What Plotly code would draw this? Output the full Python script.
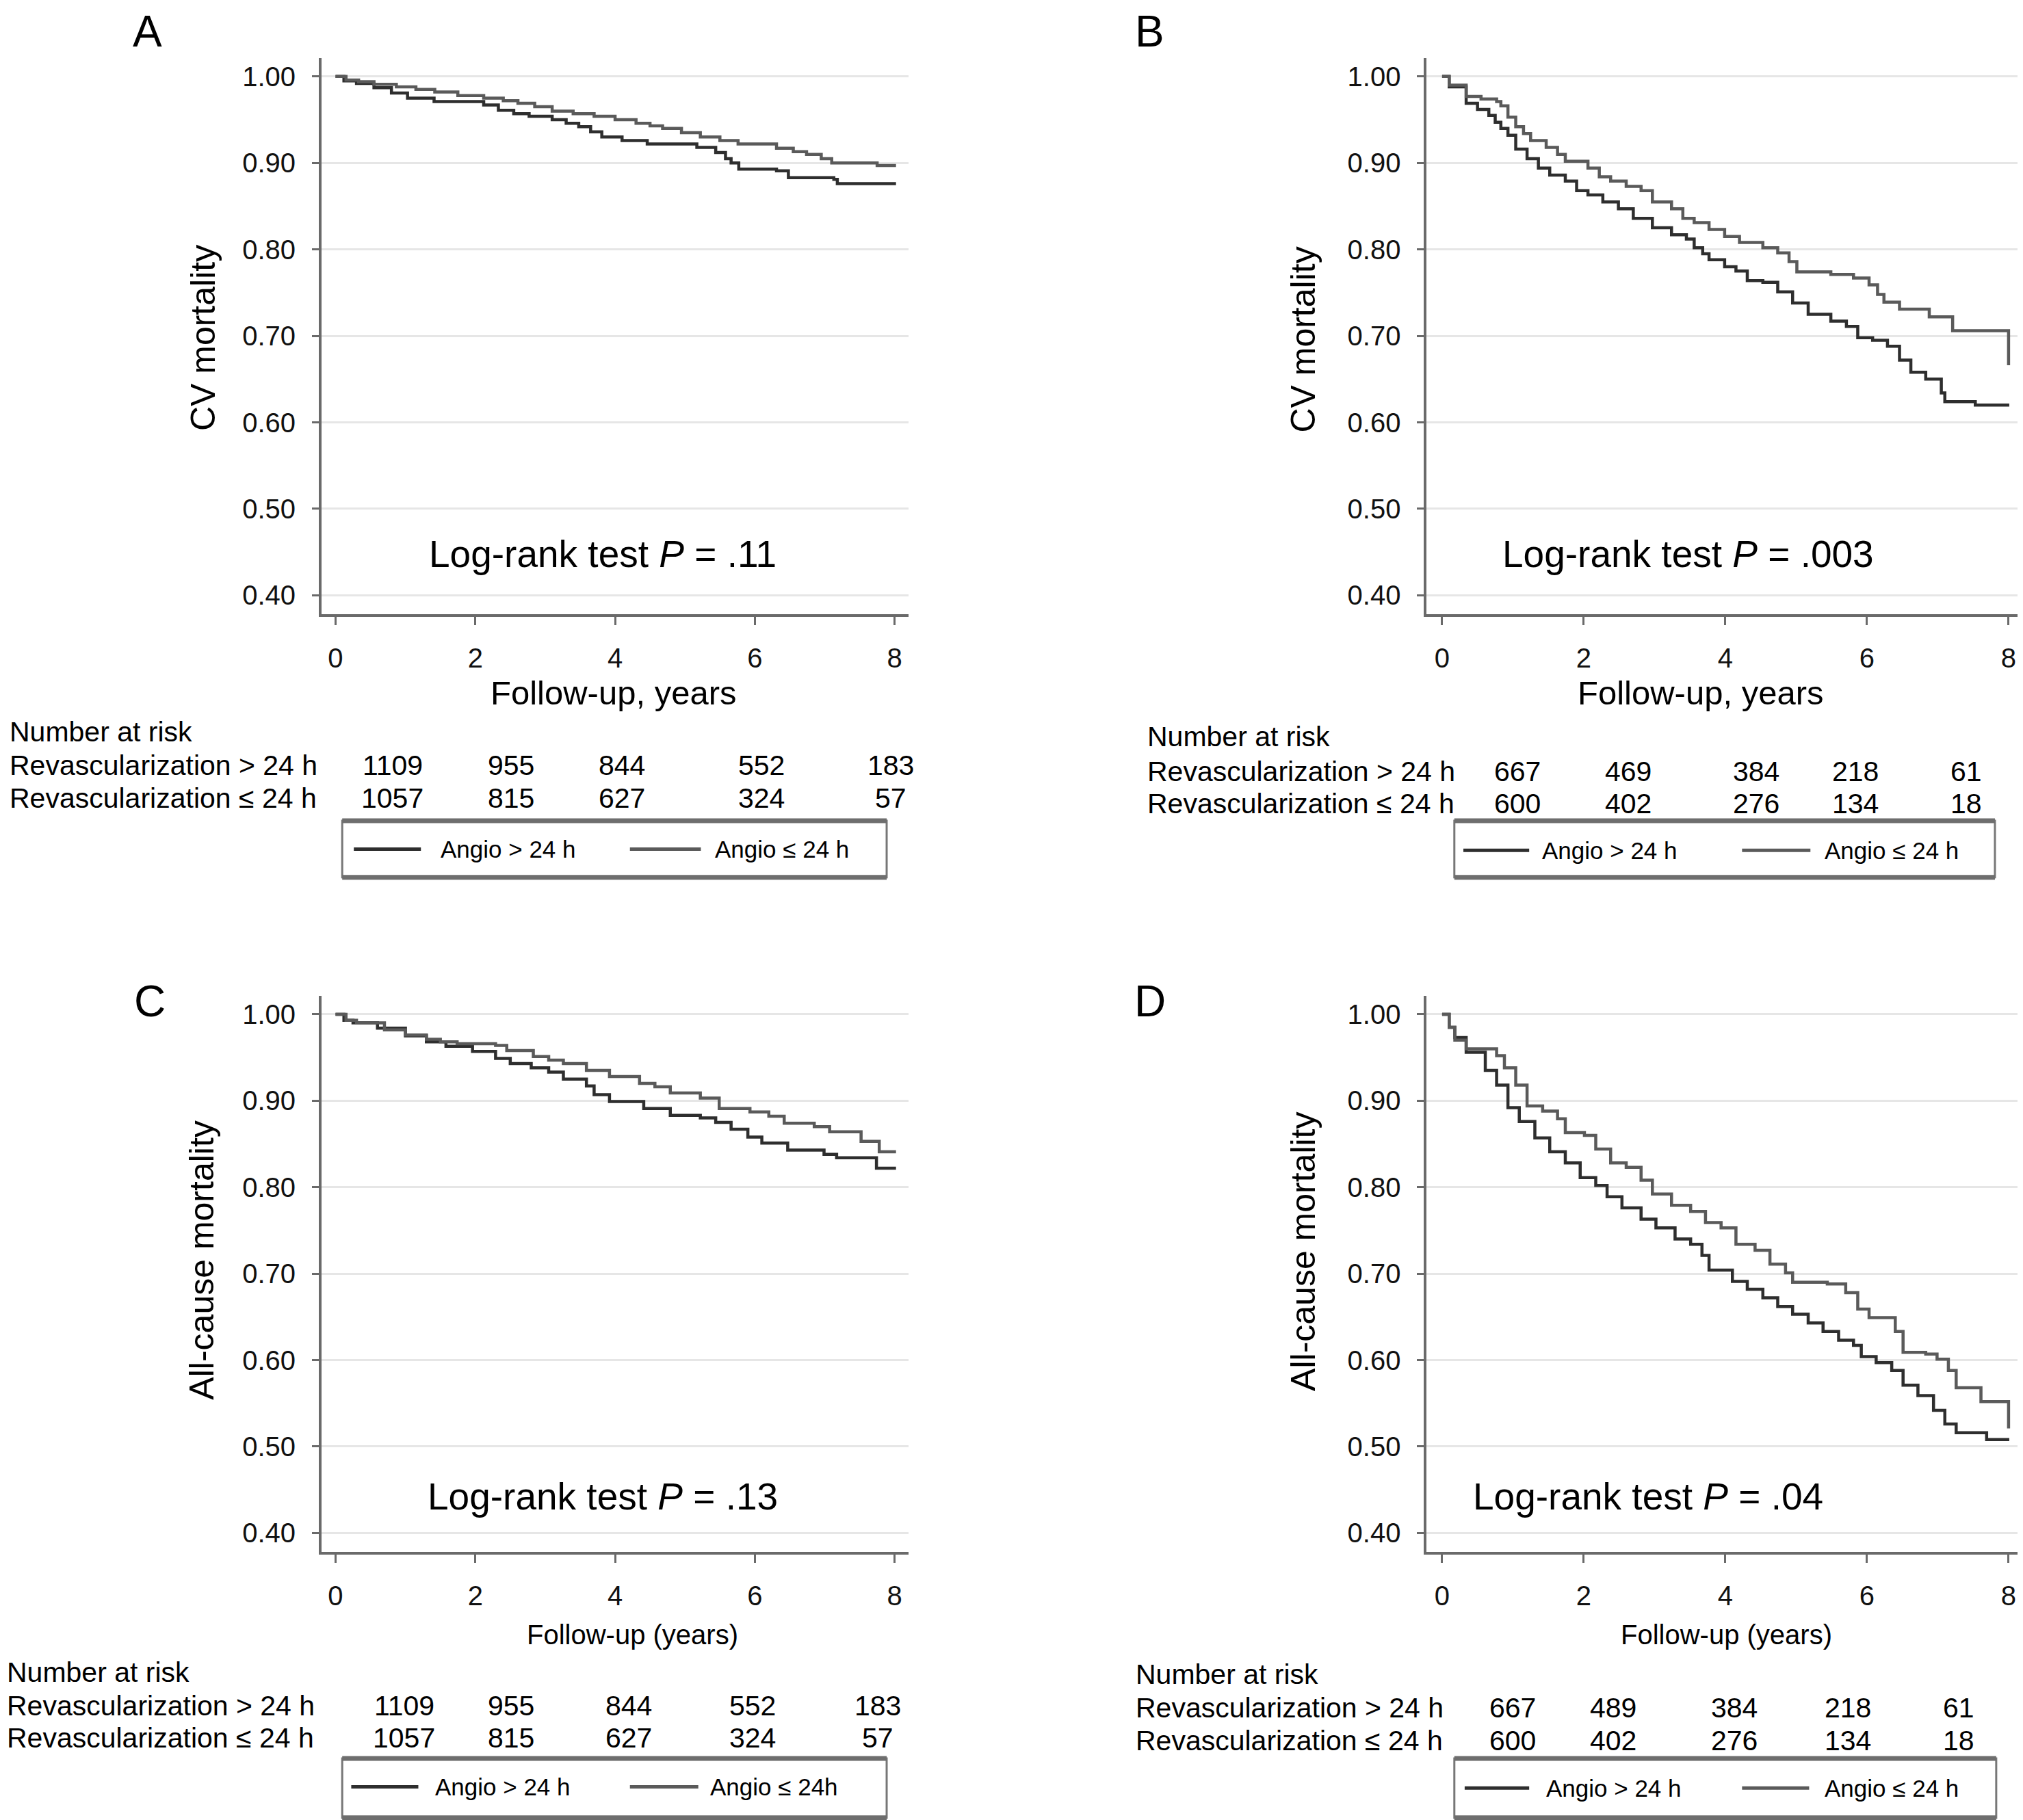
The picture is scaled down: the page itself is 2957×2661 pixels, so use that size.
import plotly.graph_objects as go

# ------------------------------------------------------------------ data
x_ticks = [0, 2, 4, 6, 8]
y_ticks = [0.40, 0.50, 0.60, 0.70, 0.80, 0.90, 1.00]
y_ticklabels = ["0.40", "0.50", "0.60", "0.70", "0.80", "0.90", "1.00"]

# Panel A : CV mortality (survival), Kaplan-Meier steps
A_le24_t = [0, 0.15, 0.33, 0.55, 0.87, 1.15, 1.42, 1.75, 2.12, 2.40, 2.61, 2.85, 3.10, 3.40, 3.70, 4.00,
            4.30, 4.50, 4.68, 4.95, 5.22, 5.50, 5.76, 6.31, 6.55, 6.74, 6.95, 7.10, 7.75, 8.02]
A_le24_s = [1.0, 0.996, 0.994, 0.991, 0.988, 0.985, 0.982, 0.978, 0.975, 0.972, 0.969, 0.965, 0.960, 0.957,
            0.954, 0.950, 0.946, 0.943, 0.940, 0.935, 0.930, 0.926, 0.922, 0.917, 0.913, 0.910, 0.905, 0.900,
            0.897, 0.897]
A_gt24_t = [0, 0.12, 0.30, 0.55, 0.80, 1.03, 1.41, 2.12, 2.33, 2.55, 2.77, 3.10, 3.30, 3.48, 3.65, 3.81,
            4.10, 4.46, 5.17, 5.44, 5.58, 5.66, 5.77, 6.31, 6.48, 7.13, 7.18, 8.02]
A_gt24_s = [1.0, 0.995, 0.992, 0.987, 0.981, 0.975, 0.971, 0.967, 0.961, 0.957, 0.954, 0.950, 0.946, 0.942,
            0.936, 0.930, 0.926, 0.922, 0.918, 0.912, 0.905, 0.900, 0.893, 0.891, 0.883, 0.881, 0.876, 0.876]

# Panel B : CV mortality
B_le24_t = [0, 0.10, 0.34, 0.55, 0.77, 0.83, 0.93, 1.04, 1.15, 1.25, 1.47, 1.63, 1.74, 2.06, 2.22, 2.38,
            2.60, 2.81, 2.97, 3.24, 3.40, 3.56, 3.77, 3.99, 4.20, 4.53, 4.74, 4.90, 5.01, 5.49, 5.81, 6.03,
            6.15, 6.24, 6.46, 6.88, 7.21, 8.00]
B_le24_s = [1.0, 0.990, 0.977, 0.974, 0.971, 0.966, 0.953, 0.942, 0.934, 0.926, 0.918, 0.910, 0.902, 0.894,
            0.884, 0.879, 0.873, 0.868, 0.855, 0.847, 0.836, 0.831, 0.823, 0.815, 0.808, 0.802, 0.796, 0.786,
            0.774, 0.771, 0.767, 0.759, 0.748, 0.739, 0.731, 0.722, 0.706, 0.666]
B_gt24_t = [0, 0.10, 0.34, 0.50, 0.66, 0.75, 0.83, 0.93, 1.04, 1.20, 1.36, 1.52, 1.74, 1.90, 2.06, 2.27,
            2.49, 2.70, 2.97, 3.24, 3.45, 3.56, 3.68, 3.77, 3.99, 4.15, 4.31, 4.53, 4.74, 4.95, 5.17, 5.49,
            5.71, 5.87, 6.08, 6.29, 6.46, 6.62, 6.83, 7.05, 7.10, 7.53, 8.01]
B_gt24_s = [1.0, 0.988, 0.969, 0.962, 0.955, 0.947, 0.940, 0.932, 0.916, 0.905, 0.894, 0.886, 0.879, 0.868,
            0.863, 0.855, 0.847, 0.836, 0.825, 0.817, 0.812, 0.802, 0.795, 0.788, 0.780, 0.775, 0.764, 0.762,
            0.751, 0.738, 0.725, 0.717, 0.711, 0.698, 0.695, 0.688, 0.672, 0.658, 0.650, 0.634, 0.624, 0.620,
            0.620]

# Panel C : all-cause mortality
C_le24_t = [0, 0.15, 0.30, 0.70, 1.00, 1.30, 1.50, 1.74, 2.29, 2.45, 2.83, 3.05, 3.26, 3.59, 3.92, 4.35,
            4.57, 4.79, 5.22, 5.49, 5.93, 6.20, 6.42, 6.85, 7.07, 7.52, 7.78, 8.02]
C_le24_s = [1.0, 0.993, 0.990, 0.982, 0.976, 0.971, 0.968, 0.966, 0.964, 0.958, 0.951, 0.947, 0.943, 0.935,
            0.928, 0.920, 0.916, 0.909, 0.903, 0.891, 0.887, 0.882, 0.874, 0.870, 0.864, 0.853, 0.841, 0.841]
C_gt24_t = [0, 0.12, 0.25, 0.60, 1.00, 1.30, 1.58, 1.96, 2.29, 2.50, 2.80, 3.05, 3.26, 3.59, 3.70, 3.92,
            4.41, 4.79, 5.22, 5.44, 5.66, 5.90, 6.10, 6.47, 6.99, 7.17, 7.74, 8.02]
C_gt24_s = [1.0, 0.993, 0.990, 0.984, 0.975, 0.968, 0.963, 0.957, 0.949, 0.943, 0.938, 0.933, 0.925, 0.917,
            0.907, 0.899, 0.891, 0.883, 0.880, 0.875, 0.867, 0.858, 0.851, 0.843, 0.838, 0.834, 0.822, 0.822]

# Panel D : all-cause mortality
D_le24_t = [0, 0.10, 0.18, 0.34, 0.77, 0.88, 1.04, 1.20, 1.42, 1.63, 1.74, 2.01, 2.17, 2.38, 2.60, 2.81,
            2.97, 3.24, 3.51, 3.72, 3.94, 4.15, 4.42, 4.63, 4.85, 4.95, 5.44, 5.70, 5.87, 6.03, 6.40, 6.51,
            6.83, 6.99, 7.15, 7.26, 7.61, 8.00]
D_le24_s = [1.0, 0.985, 0.970, 0.960, 0.952, 0.938, 0.918, 0.894, 0.888, 0.879, 0.863, 0.860, 0.844, 0.828,
            0.823, 0.808, 0.792, 0.779, 0.772, 0.759, 0.753, 0.734, 0.727, 0.711, 0.701, 0.690, 0.688, 0.678,
            0.659, 0.649, 0.633, 0.609, 0.607, 0.601, 0.588, 0.568, 0.552, 0.521]
D_gt24_t = [0, 0.10, 0.18, 0.34, 0.61, 0.77, 0.93, 1.09, 1.31, 1.52, 1.74, 1.95, 2.17, 2.33, 2.54, 2.81,
            3.02, 3.29, 3.51, 3.67, 3.77, 4.10, 4.31, 4.53, 4.74, 4.95, 5.17, 5.38, 5.60, 5.81, 5.92, 6.13,
            6.35, 6.51, 6.72, 6.94, 7.10, 7.26, 7.69, 8.01]
D_gt24_s = [1.0, 0.985, 0.973, 0.956, 0.935, 0.918, 0.892, 0.876, 0.857, 0.841, 0.828, 0.811, 0.802, 0.789,
            0.776, 0.763, 0.753, 0.740, 0.734, 0.721, 0.704, 0.691, 0.682, 0.672, 0.662, 0.653, 0.643, 0.633,
            0.623, 0.617, 0.604, 0.597, 0.588, 0.571, 0.559, 0.542, 0.526, 0.516, 0.508, 0.508]

# Number at risk
risk_A_gt24 = [1109, 955, 844, 552, 183]
risk_A_le24 = [1057, 815, 627, 324, 57]
risk_B_gt24 = [667, 469, 384, 218, 61]
risk_B_le24 = [600, 402, 276, 134, 18]
risk_C_gt24 = [1109, 955, 844, 552, 183]
risk_C_le24 = [1057, 815, 627, 324, 57]
risk_D_gt24 = [667, 489, 384, 218, 61]
risk_D_le24 = [600, 402, 276, 134, 18]

pvalues = [".11", ".003", ".13", ".04"]
panel_letters = ["A", "B", "C", "D"]
y_titles = ["CV mortality", "CV mortality", "All-cause mortality", "All-cause mortality"]
x_titles = ["Follow-up, years", "Follow-up, years", "Follow-up (years)", "Follow-up (years)"]
legend_gt = ["Angio > 24 h", "Angio > 24 h", "Angio > 24 h", "Angio > 24 h"]
legend_le = ["Angio ≤ 24 h", "Angio ≤ 24 h", "Angio ≤ 24h", "Angio ≤ 24 h"]
row_gt = "Revascularization > 24 h"
row_le = "Revascularization ≤ 24 h"

# ------------------------------------------------------------------ layout helpers
W, H = 2957, 2661
DW, DH = 1568.0, 1411.0          # reference units


def px(x):
    return x / DW


def py(y):
    return 1 - y / DH


FONT = "Liberation Sans, Arial, Helvetica, sans-serif"
COL_GT = "#2e2e2e"
COL_LE = "#5a5a5a"
AXC = "#6a6a6a"

panels = [
    dict(xd=(245, 700), yd=(41, 472), xr=[-0.2, 8.2]),
    dict(xd=(1101.6, 1563), yd=(41, 472), xr=[-0.217, 8.19]),
    dict(xd=(245, 700), yd=(768, 1199), xr=[-0.2, 8.2]),
    dict(xd=(1101.6, 1563), yd=(768, 1199), xr=[-0.217, 8.19]),
]
curves = [
    (A_gt24_t, A_gt24_s, A_le24_t, A_le24_s),
    (B_gt24_t, B_gt24_s, B_le24_t, B_le24_s),
    (C_gt24_t, C_gt24_s, C_le24_t, C_le24_s),
    (D_gt24_t, D_gt24_s, D_le24_t, D_le24_s),
]
risks = [(risk_A_gt24, risk_A_le24), (risk_B_gt24, risk_B_le24),
         (risk_C_gt24, risk_C_le24), (risk_D_gt24, risk_D_le24)]

# text placement (reference units)
letter_pos = [(110, 0), (887, 0), (112, 752), (887, 752)]
ytitle_pos = [(153, 258), (1006, 259), (152, 973), (1006, 966)]
xtitle_pos = [(471, 533), (1314, 533), (486, 1263), (1334, 1263)]
xtitle_size = [49, 49, 40, 40]
logrank_pos = [(463, 425), (1304, 425), (463, 1156), (1273, 1156)]
nar_x = [2, 884, 0, 875]
nar_y = [(563, 589, 614.5), (567, 594, 619), (1292, 1318, 1343), (1294, 1320, 1345)]
num_x = [[300, 392, 478, 586, 686], [1172, 1258, 1357, 1434, 1520],
         [309, 392, 483, 579, 676], [1168, 1246, 1340, 1428, 1514]]
legend_box = [(261, 683, 632, 676), (1123, 1542, 632, 676), (261, 683, 1359, 1405), (1123, 1543, 1359, 1405)]
legend_items = [((270, 322), 336, (484, 539), 549, 654),
                ((1130, 1181), 1190, (1346, 1399), 1409, 655),
                ((268, 320), 332, (484, 537), 545, 1381),
                ((1131, 1181), 1193, (1346, 1398), 1409, 1382)]

fig = go.Figure()
annotations = []
shapes = []

for i, p in enumerate(panels):
    n = "" if i == 0 else str(i + 1)
    xa, ya = "x" + n, "y" + n
    gt_t, gt_s, le_t, le_s = curves[i]
    fig.add_trace(go.Scatter(x=gt_t, y=gt_s, mode="lines", line=dict(shape="hv", color=COL_GT, width=4.5),
                             xaxis=xa, yaxis=ya, showlegend=False, name=legend_gt[i]))
    fig.add_trace(go.Scatter(x=le_t, y=le_s, mode="lines", line=dict(shape="hv", color=COL_LE, width=4.5),
                             xaxis=xa, yaxis=ya, showlegend=False, name=legend_le[i]))

    fig.layout["xaxis" + n] = dict(
        domain=[px(p["xd"][0]), px(p["xd"][1])], range=p["xr"], anchor=ya,
        tickvals=x_ticks, ticks="outside", ticklen=12, tickwidth=3, tickcolor=AXC,
        showline=True, linecolor=AXC, linewidth=4, showgrid=False, zeroline=False,
        tickfont=dict(family=FONT, size=40, color="#111"), ticklabelstandoff=14, fixedrange=True)
    fig.layout["yaxis" + n] = dict(
        domain=[py(p["yd"][1]), py(p["yd"][0])], range=[0.378, 1.021], anchor=xa,
        tickvals=y_ticks, ticktext=y_ticklabels, ticks="outside", ticklen=10, tickwidth=3, tickcolor=AXC,
        showline=True, linecolor=AXC, linewidth=4, showgrid=True, gridcolor="#e6e6e6", gridwidth=3,
        zeroline=False, tickfont=dict(family=FONT, size=40, color="#111"), ticklabelstandoff=16,
        fixedrange=True)

    # panel letter
    annotations.append(dict(text=panel_letters[i], x=px(letter_pos[i][0]), y=py(letter_pos[i][1]),
                            xref="paper", yref="paper", showarrow=False, xanchor="center", yanchor="top",
                            font=dict(family=FONT, size=64, color="#000")))
    # y title
    annotations.append(dict(text=y_titles[i], x=px(ytitle_pos[i][0]), y=py(ytitle_pos[i][1]),
                            xref="paper", yref="paper", showarrow=False, textangle=-90,
                            xanchor="center", yanchor="middle",
                            font=dict(family=FONT, size=50, color="#000")))
    # x title
    annotations.append(dict(text=x_titles[i], x=px(xtitle_pos[i][0]), y=py(xtitle_pos[i][1]),
                            xref="paper", yref="paper", showarrow=False, xanchor="center", yanchor="middle",
                            font=dict(family=FONT, size=xtitle_size[i], color="#000")))
    # log-rank
    annotations.append(dict(text="Log-rank test <i>P</i> = " + pvalues[i],
                            x=px(logrank_pos[i][0]), y=py(logrank_pos[i][1]),
                            xref="paper", yref="paper", showarrow=False, xanchor="center", yanchor="middle",
                            font=dict(family=FONT, size=55, color="#000")))
    # number at risk block
    for txt, yy in zip(["Number at risk", row_gt, row_le], nar_y[i]):
        annotations.append(dict(text=txt, x=px(nar_x[i]), y=py(yy), xref="paper", yref="paper",
                                showarrow=False, xanchor="left", yanchor="middle",
                                font=dict(family=FONT, size=41, color="#000")))
    r_gt, r_le = risks[i]
    for k in range(5):
        annotations.append(dict(text=str(r_gt[k]), x=px(num_x[i][k]), y=py(nar_y[i][1]),
                                xref="paper", yref="paper", showarrow=False,
                                xanchor="center", yanchor="middle",
                                font=dict(family=FONT, size=41, color="#000")))
        annotations.append(dict(text=str(r_le[k]), x=px(num_x[i][k]), y=py(nar_y[i][2]),
                                xref="paper", yref="paper", showarrow=False,
                                xanchor="center", yanchor="middle",
                                font=dict(family=FONT, size=41, color="#000")))
    # legend box
    x0, x1, y0, y1 = legend_box[i]
    shapes.append(dict(type="rect", xref="paper", yref="paper", x0=px(x0), x1=px(x1), y0=py(y1), y1=py(y0),
                       line=dict(color="#777", width=3), fillcolor="rgba(0,0,0,0)"))
    for yy in (y0, y1):
        shapes.append(dict(type="line", xref="paper", yref="paper", x0=px(x0), x1=px(x1), y0=py(yy), y1=py(yy),
                           line=dict(color="#6e6e6e", width=7)))
    (l1a, l1b), t1x, (l2a, l2b), t2x, ly = legend_items[i]
    shapes.append(dict(type="line", xref="paper", yref="paper", x0=px(l1a), x1=px(l1b), y0=py(ly), y1=py(ly),
                       line=dict(color=COL_GT, width=5)))
    shapes.append(dict(type="line", xref="paper", yref="paper", x0=px(l2a), x1=px(l2b), y0=py(ly), y1=py(ly),
                       line=dict(color=COL_LE, width=5)))
    annotations.append(dict(text=legend_gt[i], x=px(t1x), y=py(ly), xref="paper", yref="paper",
                            showarrow=False, xanchor="left", yanchor="middle",
                            font=dict(family=FONT, size=35, color="#000")))
    annotations.append(dict(text=legend_le[i], x=px(t2x), y=py(ly), xref="paper", yref="paper",
                            showarrow=False, xanchor="left", yanchor="middle",
                            font=dict(family=FONT, size=35, color="#000")))

fig.update_layout(width=W, height=H, margin=dict(l=0, r=0, t=0, b=0, autoexpand=False),
                  paper_bgcolor="white", plot_bgcolor="white", showlegend=False,
                  annotations=annotations, shapes=shapes, font=dict(family=FONT))

fig.write_html("out.html")
